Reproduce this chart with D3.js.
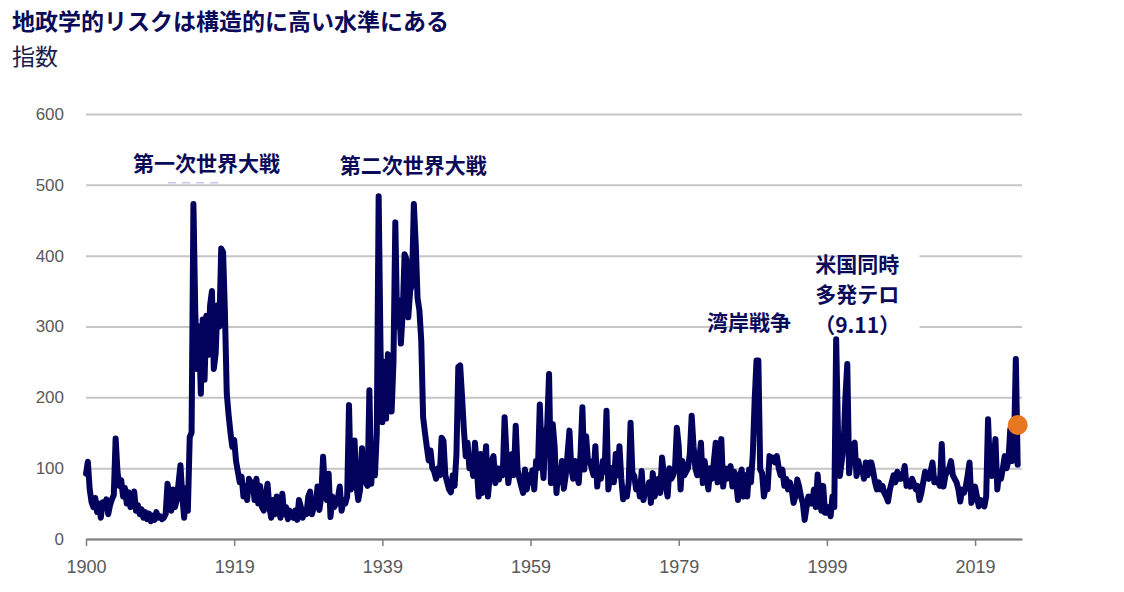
<!DOCTYPE html>
<html lang="ja">
<head>
<meta charset="utf-8">
<script src="https://cdn.jsdelivr.net/npm/d3@7"></script>
<style>
  body { margin: 0; background: #fff; }
  text { font-family: "Noto Sans CJK JP", "Noto Sans", sans-serif; }
</style>
</head>
<body>
<div id="wrapper"></div>
<script>
// 四半期ごとの指数（1900年Q1〜2025年Q4）、グラフから読み取り
const startYear = 1900;
const gprValues = [
  92, 109, 70, 52,   45, 58, 38, 50,   30, 52, 44, 56,   35, 48, 56, 62,   142, 95, 75, 83,
  60, 72, 50, 66,    45, 55, 67, 40,   48, 35, 42, 30,   38, 28, 36, 25,   33, 27, 38, 30,
  32, 28, 30, 35,    78, 62, 40, 70,   45, 55, 80, 104,  60, 30, 72, 40,   144, 150, 473, 320,
  240, 300, 205, 310, 225, 315, 260, 330, 350, 240, 262, 330, 300, 410, 405, 320, 205, 175, 150, 130,
  140, 110, 95, 80,  88, 60, 75, 55,   85, 70, 80, 55,   85, 50, 75, 45,   40, 60, 78, 45,
  30, 55, 35, 60,    40, 30, 64, 35,   45, 28, 40, 32,   30, 40, 27, 55,   45, 30, 40, 35,
  60, 67, 35, 45,    45, 74, 41, 60,   116, 70, 55, 92,  31, 60, 45, 50,   58, 74, 40, 55,
  50, 60, 189, 70,   80, 139, 75, 55,  70, 128, 90, 80,  75, 210, 78, 120, 90, 150, 484, 270,
  165, 250, 170, 261, 240, 180, 250, 447, 300, 337, 276, 320, 402, 395, 313, 350, 360, 473, 417, 340,
  323, 280, 172, 150, 130, 111, 125, 100, 95, 85, 100, 90, 143, 139, 90, 80, 70, 66, 90, 75,
  120, 243, 245, 202, 155, 117, 136, 100, 110, 89, 136, 100, 60, 120, 65, 100, 131, 60, 90, 110,
  117, 79, 100, 84,  100, 90, 172, 120, 79, 100, 120, 90, 160, 98, 85, 75,  65, 98, 70, 90,
  80, 97, 70, 110,   100, 190, 120, 86, 145, 160, 233, 79, 162, 131, 65, 100, 80, 110, 71, 90,
  120, 153, 100, 85, 110, 90, 79, 120, 186, 98, 145, 110, 110, 100, 90, 131, 74, 100, 85, 110,
  95, 181, 70, 90,   100, 80, 120, 90, 131, 85, 56, 70,  60, 80, 164, 93,  89, 70, 80, 60,
  96, 55, 70, 65,    80, 51, 93, 60,   70, 85, 65, 115,  90, 75, 60, 100,  85, 90, 100, 157,
  131, 70, 110, 90,  95, 100, 120, 174, 131, 100, 90, 110, 136, 79, 110, 90, 70, 100, 85, 110,
  136, 80, 90, 141,  74, 100, 85, 95,  103, 74, 95, 80,  55, 90, 98, 60,   90, 60, 98, 80,
  120, 196, 252, 252, 98, 93, 60, 75,  70, 117, 110, 115, 108, 117, 100, 90, 98, 75, 85, 70,
  80, 70, 51, 60,    84, 74, 60, 51,   27, 45, 60, 50,   50, 70, 45, 91,   60, 40, 75, 37,
  37, 45, 32, 60,    45, 282, 150, 89, 110, 130, 200, 247, 93, 120, 131, 136, 89, 110, 95, 100,
  85, 108, 90, 108,  108, 95, 80, 70,  80, 70, 75, 65,   60, 53, 70, 80,   90, 80, 95, 85,
  85, 90, 103, 75,   80, 74, 85, 78,   70, 75, 55, 65,   80, 95, 90, 85,   95, 108, 80, 85,
  80, 75, 134, 74,   90, 95, 100, 110, 90, 85, 80, 70,   53, 70, 65, 74,   90, 108, 51, 60,
  74, 60, 46, 55,    50, 46, 60, 169,  100, 89, 110, 141, 70, 95, 85, 100, 117, 100, 110, 155,
  110, 130, 254, 105
];
const latestValue = 161;

// 軸は240か月ごとの目盛り
const xTickMonths = [0, 240, 480, 720, 960, 1200, 1440];
const xTickLabels = ["1900", "1919", "1939", "1959", "1979", "1999", "2019"];
const yTicks = [0, 100, 200, 300, 400, 500, 600];

const annotations = [
  { lines: ["第一次世界大戦"], month: 195, value: 520 },
  { lines: ["第二次世界大戦"], month: 530, value: 517 },
  { lines: ["湾岸戦争"], month: 1074, value: 295 },
  { lines: ["米国同時", "多発テロ", "（9.11）"], month: 1249, value: 291 }
];

function drawChart() {
  const dataset = gprValues.map((v, i) => ({ month: i * 3, value: v }));
  const xAccessor = d => d.month;
  const yAccessor = d => d.value;

  let dimensions = {
    width: 1124,
    height: 592,
    margin: { top: 114, right: 102, bottom: 53, left: 86 }
  };
  dimensions.boundedWidth = dimensions.width - dimensions.margin.left - dimensions.margin.right;
  dimensions.boundedHeight = dimensions.height - dimensions.margin.top - dimensions.margin.bottom;

  const wrapper = d3.select("#wrapper")
    .append("svg")
    .attr("width", dimensions.width)
    .attr("height", dimensions.height);

  // タイトル
  wrapper.append("text")
    .attr("x", 12).attr("y", 30)
    .attr("fill", "#0b0b5a")
    .style("font-size", "23px").style("font-weight", 700)
    .text("地政学的リスクは構造的に高い水準にある");
  wrapper.append("text")
    .attr("x", 12).attr("y", 65)
    .attr("fill", "#1c1c4c")
    .style("font-size", "23px")
    .text("指数");

  const bounds = wrapper.append("g")
    .attr("transform", `translate(${dimensions.margin.left},${dimensions.margin.top})`);

  const xScale = d3.scaleLinear()
    .domain([0, 1516])
    .range([0, dimensions.boundedWidth]);

  const yScale = d3.scaleLinear()
    .domain([0, 600])
    .range([dimensions.boundedHeight, 0]);

  // y軸 + グリッド線
  const yAxis = bounds.append("g")
    .call(d3.axisLeft(yScale)
      .tickValues(yTicks)
      .tickSize(-dimensions.boundedWidth)
      .tickPadding(22));
  yAxis.select(".domain").remove();
  yAxis.selectAll(".tick line")
    .attr("stroke", "#c6c6c6")
    .attr("stroke-width", 2);
  yAxis.selectAll(".tick text")
    .attr("fill", "#595959")
    .style("font-family", "'Liberation Sans', Arial, sans-serif")
    .style("font-size", "17px");

  // x軸
  const xAxis = bounds.append("g")
    .attr("transform", `translate(0,${dimensions.boundedHeight})`)
    .call(d3.axisBottom(xScale)
      .tickValues(xTickMonths)
      .tickFormat((d, i) => xTickLabels[i])
      .tickSize(7)
      .tickSizeOuter(0)
      .tickPadding(14));
  xAxis.select(".domain")
    .attr("stroke", "#7f7f7f")
    .attr("stroke-width", 2);
  xAxis.selectAll(".tick line")
    .attr("stroke", "#7f7f7f")
    .attr("stroke-width", 1.5);
  xAxis.selectAll(".tick text")
    .attr("fill", "#595959")
    .style("font-family", "'Liberation Sans', Arial, sans-serif")
    .style("font-size", "18px");

  // ラベルの背景（グリッド線を隠す）
  const labelBoxes = [
    { x0: 1060, x1: 1245, v0: 280, v1: 310 },
    { x0: 1235, x1: 1350, v0: 282, v1: 405 }
  ];
  bounds.selectAll("rect.label-bg")
    .data(labelBoxes)
    .enter().append("rect")
    .attr("class", "label-bg")
    .attr("x", d => xScale(d.x0))
    .attr("width", d => xScale(d.x1) - xScale(d.x0))
    .attr("y", d => yScale(d.v1))
    .attr("height", d => yScale(d.v0) - yScale(d.v1))
    .attr("fill", "#fff");

  // 系列
  const lineGenerator = d3.line()
    .x(d => xScale(xAccessor(d)))
    .y(d => yScale(yAccessor(d)));

  bounds.append("path")
    .datum(dataset)
    .attr("d", lineGenerator)
    .attr("fill", "none")
    .attr("stroke", "#02025c")
    .attr("stroke-width", 6)
    .attr("stroke-linejoin", "round")
    .attr("stroke-linecap", "round");

  // 直近値
  const last = dataset[dataset.length - 1];
  bounds.append("circle")
    .attr("cx", xScale(last.month))
    .attr("cy", yScale(latestValue))
    .attr("r", 10)
    .attr("fill", "#e87722");

  // 注記（複数行は1つのtextにtspanで）
  const lineGap = 30.5;
  const notes = bounds.selectAll("text.note")
    .data(annotations)
    .enter().append("text")
    .attr("class", "note")
    .attr("transform", d => `translate(${xScale(d.month)},${yScale(d.value)})`)
    .attr("text-anchor", "middle")
    .attr("fill", "#0b0b5a")
    .style("font-size", "21px")
    .style("font-weight", 700);
  notes.selectAll("tspan")
    .data(d => d.lines.map((t, i) => ({ t, i, n: d.lines.length })))
    .enter().append("tspan")
    .attr("x", 0)
    .attr("y", d => (d.i - d.n + 1) * lineGap)
    .text(d => d.t);

  // 第一次世界大戦の下の薄い点線
  bounds.append("line")
    .attr("x1", xScale(133)).attr("x2", xScale(220))
    .attr("y1", yScale(503)).attr("y2", yScale(503))
    .attr("stroke", "#c3c7ea")
    .attr("stroke-width", 1.5)
    .attr("stroke-dasharray", "8,6");
}

drawChart();
</script>
</body>
</html>
